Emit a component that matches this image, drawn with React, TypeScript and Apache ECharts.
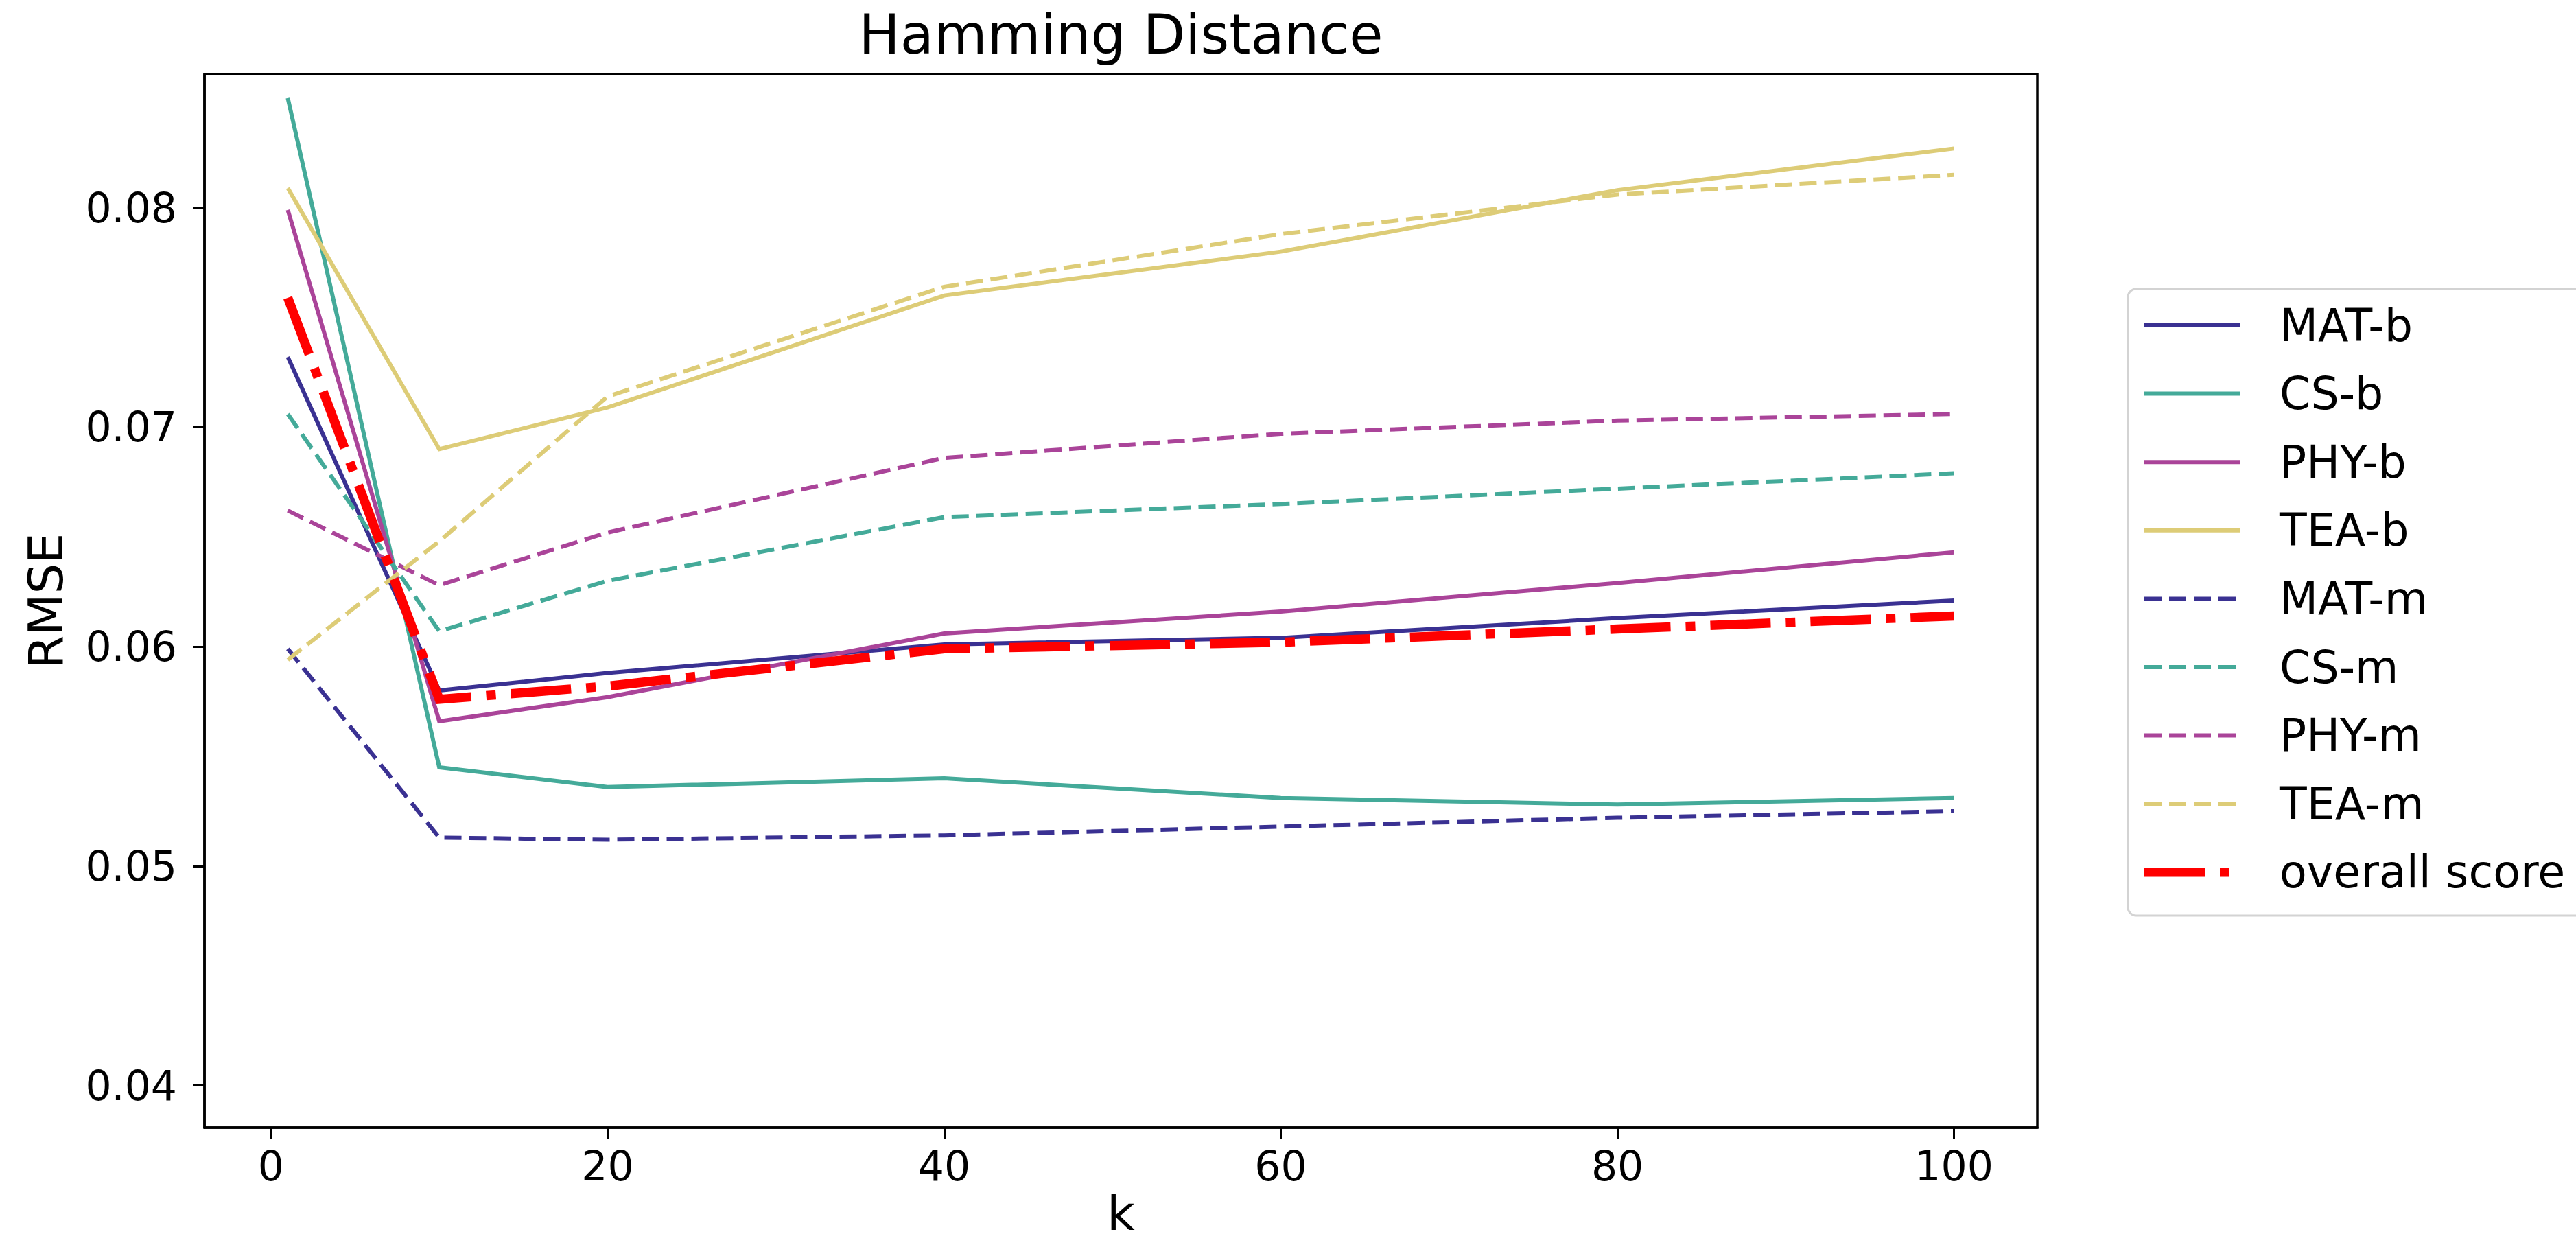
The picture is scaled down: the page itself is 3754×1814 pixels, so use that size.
import React, { useEffect, useRef } from "react";
import * as echarts from "echarts";

// ---- data ----
const kValues = [1, 10, 20, 40, 60, 80, 100];
const matB = [0.0732, 0.058, 0.0588, 0.0601, 0.0604, 0.0613, 0.0621];
const csB = [0.085, 0.0545, 0.0536, 0.054, 0.0531, 0.0528, 0.0531];
const phyB = [0.0799, 0.0566, 0.0577, 0.0606, 0.0616, 0.0629, 0.0643];
const teaB = [0.0809, 0.069, 0.0709, 0.076, 0.078, 0.0808, 0.0827];
const matM = [0.0599, 0.0513, 0.0512, 0.0514, 0.0518, 0.0522, 0.0525];
const csM = [0.0706, 0.0607, 0.063, 0.0659, 0.0665, 0.0672, 0.0679];
const phyM = [0.0662, 0.0628, 0.0652, 0.0686, 0.0697, 0.0703, 0.0706];
const teaM = [0.0594, 0.0648, 0.0714, 0.0764, 0.0788, 0.0806, 0.0815];
const overall = [0.0759, 0.0576, 0.0582, 0.0599, 0.0602, 0.0608, 0.0614];

const seriesNames = ["MAT-b", "CS-b", "PHY-b", "TEA-b", "MAT-m", "CS-m", "PHY-m", "TEA-m", "overall score"];
const seriesData = [matB, csB, phyB, teaB, matM, csM, phyM, teaM, overall];
const xTicks = [0, 20, 40, 60, 80, 100];
const yTicks = [0.04, 0.05, 0.06, 0.07, 0.08];

const titleText = "Hamming Distance";
const xName = "k";
const yName = "RMSE";

// ---- styles ----
const FONT = "DejaVu Sans";
const INDIGO = "#3a3192";
const TEAL = "#44AA99";
const PURPLE = "#AA4499";
const SAND = "#DDCC77";
const RED = "#FF0000";
const colors = [INDIGO, TEAL, PURPLE, SAND, INDIGO, TEAL, PURPLE, SAND, RED];
const THIN = 6;
const THICK = 13.5;
const DASHED = [25, 11];
const DASHDOT = [88, 22, 14, 22];
const styleKinds = ["solid", "solid", "solid", "solid", "dashed", "dashed", "dashed", "dashed", "dashdot"];

function lineTypeOf(kind: string): any {
  if (kind === "dashed") return DASHED;
  if (kind === "dashdot") return DASHDOT;
  return "solid";
}

const GRID = { left: 298, top: 108, width: 2671, height: 1535 };

export default function App() {
  const ref = useRef<HTMLDivElement>(null);

  useEffect(() => {
    if (!ref.current) return;
    const chart = echarts.init(ref.current, null, { renderer: "svg", width: 3754, height: 1814 });

    const series = seriesNames.map((name, i) => ({
      name,
      type: "line",
      data: kValues.map((k, j) => [k, seriesData[i][j]]),
      showSymbol: false,
      symbol: "none",
      lineStyle: {
        color: colors[i],
        width: styleKinds[i] === "dashdot" ? THICK : THIN,
        type: lineTypeOf(styleKinds[i]),
        cap: "butt",
        join: "miter",
      },
      itemStyle: { color: colors[i] },
      z: 2 + i,
      silent: true,
    }));

    // legend drawn as graphic
    const legendX = 3101;
    const legendTop = 421;
    const legendH = 913;
    const rowY0 = 474;
    const rowStep = 99.6;
    const legendEls: any[] = [
      {
        type: "rect",
        shape: { x: legendX, y: legendTop, width: 800, height: legendH, r: 12 },
        style: { fill: "#ffffff", stroke: "#d3d3d3", lineWidth: 3 },
        z: 100,
      },
    ];
    seriesNames.forEach((name, i) => {
      const y = rowY0 + rowStep * i;
      legendEls.push({
        type: "line",
        shape: { x1: 3125, y1: y, x2: 3265, y2: y },
        style: {
          stroke: colors[i],
          lineWidth: styleKinds[i] === "dashdot" ? THICK : THIN,
          lineDash: styleKinds[i] === "solid" ? null : lineTypeOf(styleKinds[i]),
          lineCap: "butt",
        },
        z: 101,
      });
      legendEls.push({
        type: "text",
        x: 3322,
        y: y,
        style: {
          text: name,
          fontSize: 65,
          fontFamily: FONT,
          fill: "#000000",
          align: "left",
          verticalAlign: "middle",
        },
        z: 101,
      });
    });

    const option: any = {
      animation: false,
      backgroundColor: "#ffffff",
      grid: {
        left: GRID.left,
        top: GRID.top,
        width: GRID.width,
        height: GRID.height,
        show: true,
        borderColor: "#000000",
        borderWidth: 3.5,
        backgroundColor: "transparent",
        containLabel: false,
      },
      xAxis: {
        type: "value",
        min: -3.95,
        max: 104.95,
        axisLine: { show: true, onZero: false, lineStyle: { color: "#000", width: 3.5 } },
        axisTick: {
          show: true,
          inside: false,
          length: 17,
          lineStyle: { color: "#000", width: 3 },
          customValues: xTicks,
        },
        axisLabel: {
          show: true,
          margin: 26,
          fontSize: 60,
          fontFamily: FONT,
          color: "#000",
          customValues: xTicks,
          formatter: (v: number) => String(Math.round(v)),
        },
        splitLine: { show: false },
      },
      yAxis: {
        type: "value",
        min: 0.03808,
        max: 0.08609,
        axisLine: { show: true, onZero: false, lineStyle: { color: "#000", width: 3.5 } },
        axisTick: {
          show: true,
          inside: false,
          length: 17,
          lineStyle: { color: "#000", width: 3 },
          customValues: yTicks,
        },
        axisLabel: {
          show: true,
          margin: 40,
          fontSize: 60,
          fontFamily: FONT,
          color: "#000",
          customValues: yTicks,
          formatter: (v: number) => v.toFixed(2),
        },
        splitLine: { show: false },
      },
      series,
      graphic: [
        {
          type: "text",
          x: GRID.left + GRID.width / 2,
          y: 50,
          style: {
            text: titleText,
            fontSize: 80,
            fontFamily: FONT,
            fill: "#000",
            align: "center",
            verticalAlign: "middle",
          },
        },
        {
          type: "text",
          x: GRID.left + GRID.width / 2,
          y: 1768,
          style: {
            text: xName,
            fontSize: 70,
            fontFamily: FONT,
            fill: "#000",
            align: "center",
            verticalAlign: "middle",
          },
        },
        {
          type: "text",
          x: 67,
          y: GRID.top + GRID.height / 2,
          rotation: Math.PI / 2,
          style: {
            text: yName,
            fontSize: 70,
            fontFamily: FONT,
            fill: "#000",
            align: "center",
            verticalAlign: "middle",
          },
        },
        ...legendEls,
      ],
    };

    chart.setOption(option);
    return () => {
      chart.dispose();
    };
  }, []);

  return (
    <div
      ref={ref}
      style={{ position: "fixed", left: 0, top: 0, width: 3754, height: 1814, background: "#ffffff" }}
    />
  );
}
